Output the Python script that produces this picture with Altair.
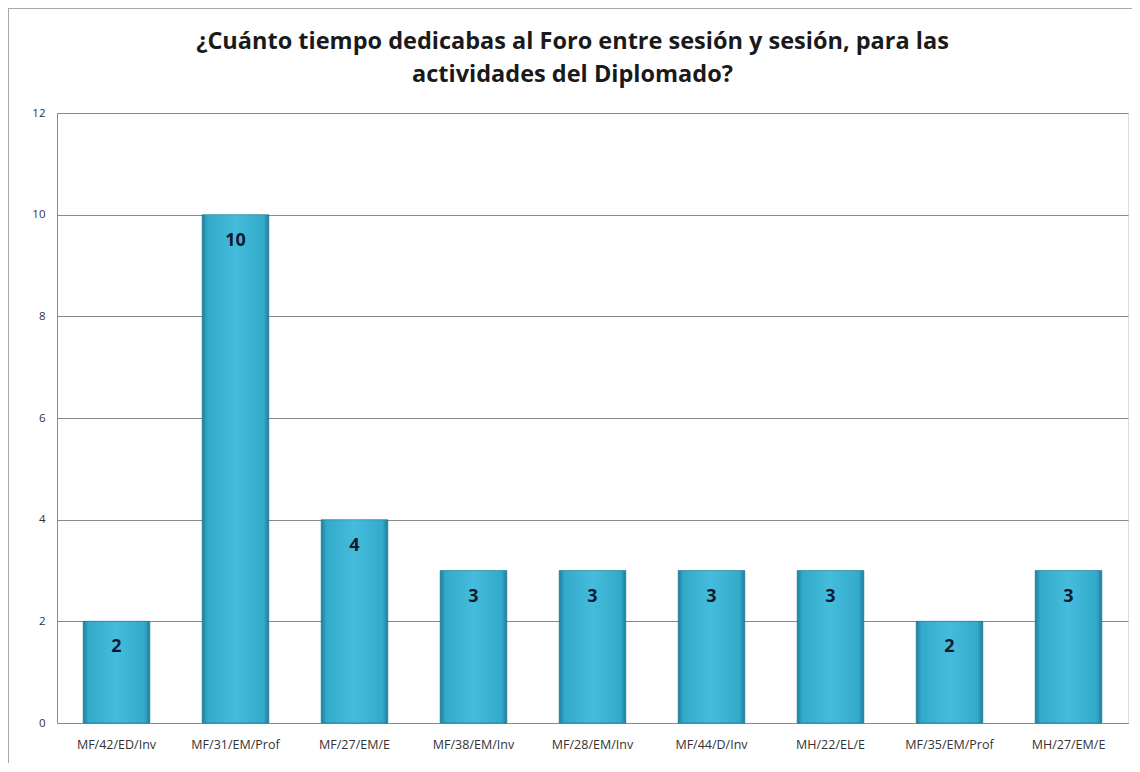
import altair as alt
import pandas as pd

categories = ["MF/42/ED/Inv", "MF/31/EM/Prof", "MF/27/EM/E", "MF/38/EM/Inv", "MF/28/EM/Inv",
              "MF/44/D/Inv", "MH/22/EL/E", "MF/35/EM/Prof", "MH/27/EM/E"]
values = [2, 10, 4, 3, 3, 3, 3, 2, 3]
y_ticks = [0, 2, 4, 6, 8, 10, 12]

df = pd.DataFrame({"cat": categories, "val": values})

W, H = 1071, 610
PL, PT = 49, 105

x_enc = alt.X("cat:N", sort=categories, title=None,
              scale=alt.Scale(paddingInner=0.44, paddingOuter=0.22),
              axis=alt.Axis(labelAngle=0, labelFont="Open Sans", labelFontSize=12.5,
                            labelColor="#333333", labelPadding=15, ticks=False,
                            domainColor="#8a8a8a", domainWidth=1))
y_enc = alt.Y("val:Q", title=None,
              scale=alt.Scale(domain=[0, 12]),
              axis=alt.Axis(values=y_ticks, labelFont="Open Sans", labelFontSize=11.5,
                            labelColor="#333333", labelPadding=12, ticks=False,
                            grid=True, gridColor="#8a8a8a", gridWidth=1,
                            domainColor="#8a8a8a", domainWidth=1))

grad = alt.Gradient(
    gradient="linear", x1=0, x2=1, y1=0, y2=0,
    stops=[alt.GradientStop(color="#1c7f9c", offset=0),
           alt.GradientStop(color="#34aacb", offset=0.08),
           alt.GradientStop(color="#45bcdc", offset=0.5),
           alt.GradientStop(color="#34aacb", offset=0.92),
           alt.GradientStop(color="#1c7f9c", offset=1)])

bars = alt.Chart(df).mark_bar(color=grad, stroke="#1a6f8a", strokeWidth=0.6).encode(x=x_enc, y=y_enc)

labels = alt.Chart(df).mark_text(font="Open Sans", fontSize=18, fontWeight="bold",
                                 color="#0f1a30", baseline="middle", dy=26).encode(
    x=alt.X("cat:N", sort=categories), y="val:Q", text="val:Q")

frame_top = alt.Chart(df).mark_rule(color="#a8a8a8", strokeWidth=2).encode(
    x=alt.value(-PL), x2=alt.value(W + 10), y=alt.value(-PT))
frame_left = alt.Chart(df).mark_rule(color="#a8a8a8", strokeWidth=2).encode(
    x=alt.value(-PL), y=alt.value(-PT), y2=alt.value(H + 60))

chart = alt.layer(frame_top, frame_left, bars, labels).properties(
    width=W, height=H,
    title=alt.TitleParams(
        ["¿Cuánto tiempo dedicabas al Foro entre sesión y sesión, para las",
         "actividades del Diplomado?"],
        font="Open Sans", fontSize=23.5, fontWeight="bold", color="#1a1a1a",
        lineHeight=33, anchor="middle", dx=-20, offset=0, dy=79),
    autosize=alt.AutoSizeParams(type="none"),
    padding={"left": PL, "top": PT, "right": 4, "bottom": 40},
).configure_view(stroke=None).configure(background="white")

chart.save("out.html", embed_options={"renderer": "svg", "actions": False})
